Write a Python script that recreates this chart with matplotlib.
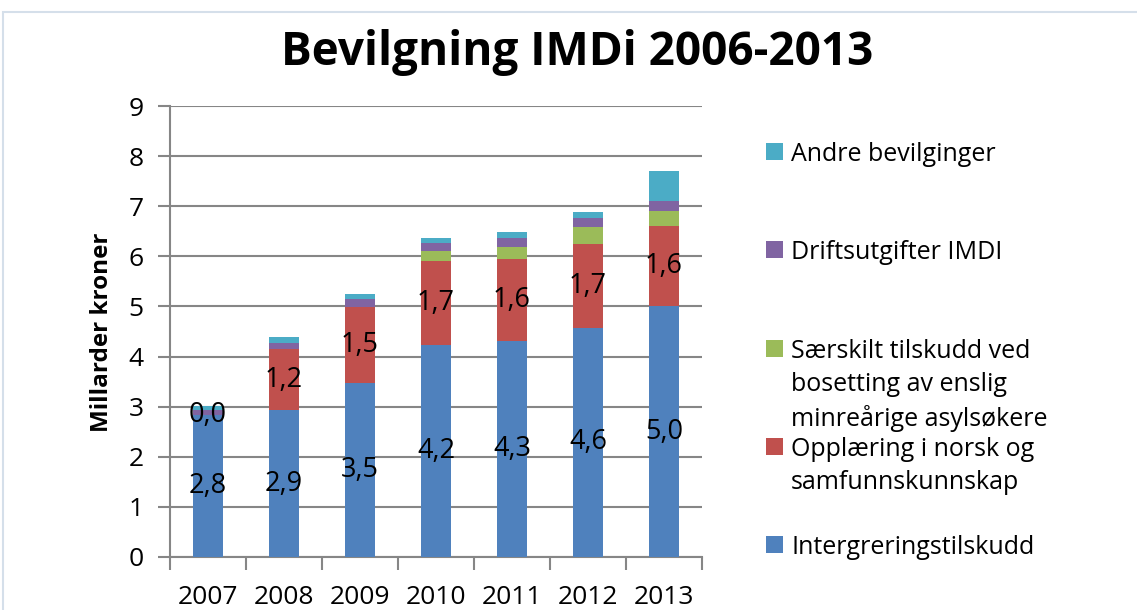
import matplotlib
matplotlib.use("Agg")
import matplotlib.pyplot as plt
from matplotlib.patches import Rectangle
import numpy as np

plt.rcParams['font.family'] = ['Open Sans', 'DejaVu Sans']

# Data (milliarder kroner)
years = ["2007", "2008", "2009", "2010", "2011", "2012", "2013"]
integrering = [2.83, 2.93, 3.47, 4.23, 4.31, 4.57, 5.0]
opplaering = [0.0, 1.22, 1.52, 1.68, 1.63, 1.68, 1.6]
saerskilt = [0.0, 0.0, 0.0, 0.19, 0.25, 0.33, 0.3]
drift = [0.1, 0.13, 0.15, 0.17, 0.18, 0.18, 0.2]
andre = [0.08, 0.11, 0.1, 0.1, 0.12, 0.12, 0.6]

series = [
    ("Intergreringstilskudd", integrering, "#4F81BD"),
    ("Opplæring i norsk og\nsamfunnskunnskap", opplaering, "#C0504D"),
    ("Særskilt tilskudd ved\nbosetting av enslig\nminreårige asylsøkere", saerskilt, "#9BBB59"),
    ("Driftsutgifter IMDI", drift, "#8064A2"),
    ("Andre bevilginger", andre, "#4BACC6"),
]
labelled = ["Intergreringstilskudd", "Opplæring i norsk og\nsamfunnskunnskap"]

W, H = 1137, 610
fig = plt.figure(figsize=(W / 100, H / 100), dpi=100)

# ramme rundt diagrammet
fig.add_artist(Rectangle((3 / W, -0.05), 1.1, 1 - 12 / H + 0.05, transform=fig.transFigure,
                         facecolor="none", edgecolor="#D5DFEA", linewidth=1.5))

ax = fig.add_axes([170 / W, (H - 557) / H, (702 - 170) / W, (557 - 106) / H])
x = np.arange(len(years))
bottom = np.zeros(len(years))
for name, vals, color in series:
    vals = np.array(vals)
    ax.bar(x, vals, 0.4, bottom=bottom, color=color, zorder=3)
    if name in labelled:
        for xi, b, v in zip(x, bottom, vals):
            ax.text(xi, b + v / 2, f"{v:.1f}".replace(".", ","), ha="center", va="center",
                    fontsize=19.5, zorder=4)
    bottom += vals

ax.set_xlim(-0.5, len(years) - 0.5)
ax.set_ylim(0, 9)
ax.set_yticks(range(0, 10))
ax.set_xticks(x)
ax.set_xticklabels(years)
ax.set_xticks(np.arange(-0.5, len(years)), minor=True)
ax.tick_params(axis="x", which="major", length=0, pad=20, labelsize=19)
ax.tick_params(axis="x", which="minor", length=9, width=1.5, color="#868686", direction="out")
ax.tick_params(axis="y", length=9, width=1.5, color="#868686", pad=10, labelsize=19)
ax.grid(axis="y", color="#868686", linewidth=1.5, zorder=0)
for s in ["top", "right"]:
    ax.spines[s].set_visible(False)
for s in ["left", "bottom"]:
    ax.spines[s].set_color("#868686")
    ax.spines[s].set_linewidth(1.5)

fig.text(577 / W, 1 - 52 / H, "Bevilgning IMDi 2006-2013", ha="center", va="center",
         fontsize=33, fontweight="bold")
fig.text(102 / W, 1 - 332 / H, "Millarder kroner", rotation=90, ha="center", va="center",
         fontsize=17.5, fontweight="bold")

# forklaring
legend_y = [544, 446, 348, 249, 151]
for (name, vals, color), ly in zip(series, legend_y):
    fig.add_artist(Rectangle((766 / W, 1 - (ly + 8.5) / H), 17 / W, 17 / H,
                             transform=fig.transFigure, facecolor=color, edgecolor="none"))
    fig.text(791 / W, 1 - (ly - 9) / H, name, ha="left", va="top", fontsize=18,
             linespacing=1.4, transform=fig.transFigure)

fig.savefig("out.png", dpi=100)
